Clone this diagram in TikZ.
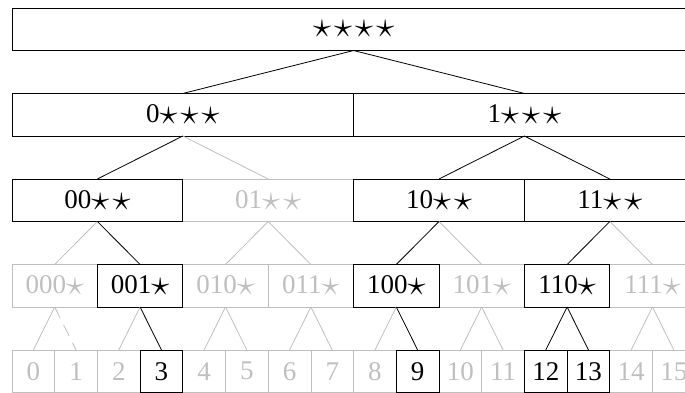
\RequirePackage{fix-cm}
\documentclass[tikz,border=0pt]{standalone}
\usepackage{fontspec}
\setmainfont{Liberation Serif}
\usetikzlibrary{positioning}
\newcommand{\wild}{\raisebox{-.08em}{\scalebox{1.35}{$\star$}}}
\newcommand{\wgap}{\kern.12em}

\begin{document}
\begin{tikzpicture}[
  x=1pt, y=1pt,
  every node/.style={font=\fontsize{27}{32}\selectfont},
  box/.style={rectangle, inner sep=0pt, outer sep=0pt, minimum height=42.5pt, line width=0.8pt},
  boxon/.style={box, draw=black, text=black},
  boxoff/.style={box, draw=gray!50, text=gray!50},
  linkon/.style={draw=black, line width=0.8pt},
  linkoff/.style={draw=gray!50, line width=0.8pt}
]
\useasboundingbox (0,0) rectangle (685,392);
\clip (0,0) rectangle (685,392);

% root and first split
\node[boxon, minimum width=683.2pt] (r) at (353.6,362.75) {\wild\wgap\wild\wgap\wild\wgap\wild};
\node[boxon, minimum width=341.6pt] (p0) at (182.8,277.25) {0\wild\wgap\wild\wgap\wild};
\node[boxon, minimum width=341.6pt, right=0pt of p0] (p1) {1\wild\wgap\wild\wgap\wild};

% two-bit prefixes
\foreach \i/\b in {1/01}
  \node[boxoff, minimum width=170.8pt] (p\b) at ({12+170.8*(\i+.5)},191.75) {\b\wild\wgap\wild};
\foreach \i/\b in {0/00,2/10,3/11}
  \node[boxon, minimum width=170.8pt] (p\b) at ({12+170.8*(\i+.5)},191.75) {\b\wild\wgap\wild};

% three-bit prefixes
\foreach \i/\b in {0/000,2/010,3/011,5/101,7/111}
  \node[boxoff, minimum width=85.4pt] (p\b) at ({12+85.4*(\i+.5)},106.25) {\b\wild};
\foreach \i/\b in {1/001,4/100,6/110}
  \node[boxon, minimum width=85.4pt] (p\b) at ({12+85.4*(\i+.5)},106.25) {\b\wild};

% leaves
\foreach \i in {0,1,2,4,5,6,7,8,10,11,14,15}
  \node[boxoff, minimum width=42.7pt] (l\i) at ({12+42.7*(\i+.5)},20.75) {\i};
\foreach \i in {3,9,12,13}
  \node[boxon, minimum width=42.7pt] (l\i) at ({12+42.7*(\i+.5)},20.75) {\i};

% links
\foreach \a/\b in {p0/p01,p00/p000,p01/p010,p01/p011,p10/p101,p11/p111,
    p000/l0,p001/l2,p010/l4,p010/l5,p011/l6,p011/l7,p100/l8,p101/l10,p101/l11,p111/l14,p111/l15}
  \draw[linkoff] (\a.south) -- (\b.north);
\draw[linkoff, dash pattern=on 12pt off 8pt] (p000.south) -- (l1.north);
\foreach \a/\b in {r/p0,r/p1,p0/p00,p1/p10,p1/p11,p00/p001,p10/p100,p11/p110,
    p001/l3,p100/l9,p110/l12,p110/l13}
  \draw[linkon] (\a.south) -- (\b.north);
\end{tikzpicture}
\end{document}
